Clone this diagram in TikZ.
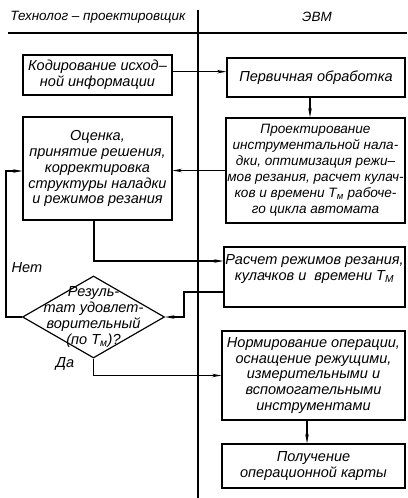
\documentclass[tikz,border=0pt]{standalone}
\usepackage{fontspec}
\setmainfont{Liberation Sans}
\usetikzlibrary{shapes.geometric,arrows.meta}
\tikzset{
  blk/.style={draw, line width=1pt, inner sep=1pt, align=center},
  txt/.style={align=center, inner sep=0pt},
  hdr/.style={txt, font=\itshape\fontsize{11.5}{12}\selectfont},
  ln/.style={line width=1pt},
  arr/.style={line width=1pt, -{Stealth[length=8pt,width=3pt]}}
}
\begin{document}
\begin{tikzpicture}[x=0.03cm, y=-0.03cm, font=\itshape\fontsize{12.4}{13.6}\selectfont]
  \useasboundingbox (0,0) rectangle (407,498);
  \draw[ln] (8,33) -- (407,33);
  \draw[ln] (198,10) -- (198,498);
  \node[hdr] (hleft) at (98,17) {Технолог – проектировщик};
  \node[hdr] (hright) at (317,17) {ЭВМ};
  \node[blk, minimum width=4.47cm, minimum height=1.2cm] (kod) at (97.5,75) {Кодирование исход–\\ной информации};
  \node[blk, minimum width=5.34cm, minimum height=1.17cm] (perv) at (316,77.5) {Первичная обработка};
  \node[blk, inner sep=0pt, minimum width=5.37cm, minimum height=3.15cm, font=\itshape\fontsize{11.6}{13.6}\selectfont] (proekt) at (315.5,170.5) {Проектирование\\инструментальной нала-\\дки, оптимизация режи–\\мов резания, расчет кулач-\\ков и времени T\textsubscript{м} рабоче-\\го цикла автомата};
  \node[blk, minimum width=4.47cm, minimum height=3.09cm] (ocenka) at (97.5,168.5) {Оценка,\\принятие решения,\\корректировка\\структуры наладки\\и режимов резания};
  \node[blk, minimum width=5.43cm, minimum height=1.8cm] (raschet) at (314.5,277) {Расчет режимов резания,\\кулачков и \ времени T\textsubscript{М}\\[3pt]};
  \node[draw, line width=1pt, diamond, inner sep=0pt, minimum width=4.26cm, minimum height=2.46cm] (dia) at (93.5,317) {};
  \node[txt] (diatxt) at (dia) {Резуль-\\тат удовлет-\\ворительный\\(по T\textsubscript{м})?};
  \node[blk, minimum width=5.49cm, minimum height=2.67cm] (norm) at (313.5,375.5) {Нормирование операции,\\оснащение режущими,\\измерительными и\\вспомогательными\\инструментами};
  \node[blk, minimum width=5.49cm, minimum height=1.32cm] (karta) at (313.5,466) {Получение\\операционной карты};
  \node[txt] (net) at (27,268) {Нет};
  \node[txt] (da) at (65,364) {Да};
  \coordinate (jog) at (184,317);
  \coordinate (back) at (6,171);
  \draw[arr] ([yshift=0.1cm]kod.east) -- ([yshift=0.1cm]kod.east -| perv.west);
  \draw[arr] (perv.south -| 310,0) -- (proekt.north -| 310,0);
  \draw[arr] (proekt.west) -- (proekt.west -| ocenka.east);
  \draw[arr] (ocenka.south -| 94,0) |- ([yshift=0.48cm]raschet.west);
  \draw[arr] ([yshift=-0.45cm]raschet.west) -| (jog) -- (dia.east);
  \draw[arr] (dia.west) -| (back) -- (back -| ocenka.west);
  \draw[arr] (dia.south) |- (norm.west);
  \draw[arr] (norm.south -| 307,0) -- (karta.north -| 307,0);
\end{tikzpicture}
\end{document}
